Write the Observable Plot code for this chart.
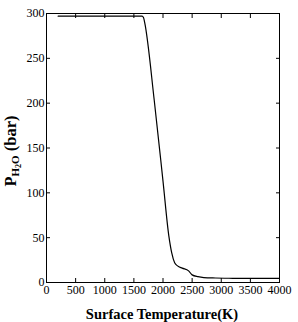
<!DOCTYPE html>
<html>
<head>
<meta charset="utf-8">
<script src="https://cdn.jsdelivr.net/npm/d3@7"></script>
<script src="https://cdn.jsdelivr.net/npm/@observablehq/plot@0.6"></script>
<style>
  html, body { margin: 0; padding: 0; background: #fff; }
  svg { display: block; }
  #chart svg text { font-family: 'Liberation Serif', 'DejaVu Serif', serif; }
</style>
</head>
<body>
<div id="chart"></div>
<script>
const temperature = [200, 1640, 1665, 1685, 1850, 2000, 2100, 2150, 2200, 2250, 2330, 2440, 2500, 2600, 2700, 2900, 3200, 3600, 4000];
const pressure    = [297, 297, 295.5, 290, 203, 113, 52, 33, 22, 18.5, 16, 13, 8.5, 6.5, 5.5, 5, 4.7, 4.5, 4.5];
const xTicks = [0, 500, 1000, 1500, 2000, 2500, 3000, 3500, 4000];
const yTicks = [0, 50, 100, 150, 200, 250, 300];

const data = temperature.map((t, i) => ({t, p: pressure[i]}));

const font = "'Liberation Serif', 'DejaVu Serif', serif";

const plot = Plot.plot({
  width: 298,
  height: 322,
  marginTop: 13,
  marginBottom: 40,
  marginLeft: 46,
  marginRight: 19,
  style: {fontFamily: font, fontSize: "12px", color: "#000", background: "#fff"},
  x: {domain: [0, 4000]},
  y: {domain: [0, 300]},
  marks: [
    Plot.axisX(xTicks, {anchor: "bottom", tickSize: -4, tickPadding: 7, label: null, fontSize: 12, fontFamily: font, tickFormat: d3.format("d")}),
    Plot.axisX(xTicks, {anchor: "top", tickSize: -4, tickFormat: () => "", label: null}),
    Plot.axisY(yTicks, {anchor: "left", tickSize: -4, tickPadding: 6, label: null, fontSize: 12, fontFamily: font, tickFormat: d3.format("d")}),
    Plot.axisY(yTicks, {anchor: "right", tickSize: -4, tickFormat: () => "", label: null}),
    Plot.frame({stroke: "#000", strokeWidth: 1}),
    Plot.line(data, {x: "t", y: "p", stroke: "#000", strokeWidth: 1.2, curve: "monotone-x"})
  ]
});

document.getElementById("chart").appendChild(plot);

const svg = d3.select(plot);
svg.append("text")
  .attr("x", 162)
  .attr("y", 319)
  .attr("text-anchor", "middle")
  .attr("font-family", font)
  .attr("font-weight", "bold")
  .attr("font-size", 14.5)
  .attr("fill", "#000")
  .text("Surface Temperature(K)");

const yl = svg.append("text")
  .attr("transform", "translate(16,151) rotate(-90)")
  .attr("text-anchor", "middle")
  .attr("font-family", font)
  .attr("font-weight", "bold")
  .attr("font-size", 16.5)
  .attr("fill", "#000");
yl.append("tspan").text("P");
yl.append("tspan").attr("font-size", 11).attr("dy", 3).text("H");
yl.append("tspan").attr("font-size", 8).attr("dy", 2).text("2");
yl.append("tspan").attr("font-size", 11).attr("dy", -2).text("O");
yl.append("tspan").attr("dy", -3).text(" (bar)");
</script>
</body>
</html>
